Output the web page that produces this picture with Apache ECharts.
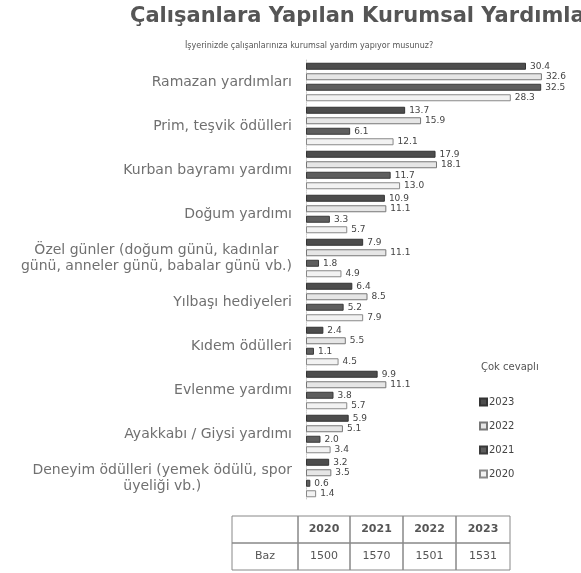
<!DOCTYPE html>
<html><head><meta charset="utf-8">
<script src="https://cdn.jsdelivr.net/npm/echarts@6/dist/echarts.min.js"></script>
<style>html,body{margin:0;padding:0;background:#fff}#c{width:581px;height:573px}</style>
</head><body><div id="c"></div>
<script>
const categories = [
  'Ramazan yardımları',
  'Prim, teşvik ödülleri',
  'Kurban bayramı yardımı',
  'Doğum yardımı',
  'Özel günler (doğum günü, kadınlar\ngünü, anneler günü, babalar günü vb.)',
  'Yılbaşı hediyeleri',
  'Kıdem ödülleri',
  'Evlenme yardımı',
  'Ayakkabı / Giysi yardımı',
  'Deneyim ödülleri (yemek ödülü, spor\nüyeliği vb.)'
];
const seriesNames = ['2023', '2022', '2021', '2020'];
const v2023 = [30.4, 13.7, 17.9, 10.9, 7.9, 6.4, 2.4, 9.9, 5.9, 3.2];
const v2022 = [32.6, 15.9, 18.1, 11.1, 11.1, 8.5, 5.5, 11.1, 5.1, 3.5];
const v2021 = [32.5, 6.1, 11.7, 3.3, 1.8, 5.2, 1.1, 3.8, 2.0, 0.6];
const v2020 = [28.3, 12.1, 13.0, 5.7, 4.9, 7.9, 4.5, 5.7, 3.4, 1.4];
const tableHeader = ['', '2020', '2021', '2022', '2023'];
const tableRow = ['Baz', '1500', '1570', '1501', '1531'];

const FONT = 'DejaVu Sans';
const styles = [
  {color: '#4d4d4d', borderColor: '#333', borderWidth: 1},
  {color: '#e6e6e6', borderColor: '#777', borderWidth: 1},
  {color: '#5e5e5e', borderColor: '#3a3a3a', borderWidth: 1},
  {color: '#f2f2f2', borderColor: '#888', borderWidth: 1}
];
const values = [v2023, v2022, v2021, v2020];

const series = seriesNames.map((n, i) => ({
  name: n, type: 'bar', data: values[i], barWidth: 7, barGap: '50%',
  itemStyle: styles[i],
  label: {show: true, position: 'right', distance: 4, color: '#444', fontFamily: FONT, fontSize: 9,
    formatter: p => p.value.toFixed(1)}
}));

// table graphic
const tX = [232, 298, 350, 403, 456, 510];
const tY = [516, 543, 570];
const graphic = [];
graphic.push({type: 'text', left: 481, top: 362, style: {text: 'Çok cevaplı', font: '10px ' + FONT, fill: '#555'}});
for (let r = 0; r < 2; r++) {
  const row = r === 0 ? tableHeader : tableRow;
  for (let c = 0; c < 5; c++) {
    graphic.push({type: 'rect', shape: {x: tX[c], y: tY[r], width: tX[c+1]-tX[c], height: tY[r+1]-tY[r]},
      style: {fill: 'none', stroke: '#888', lineWidth: 1}});
    if (row[c]) graphic.push({type: 'text', x: (tX[c]+tX[c+1])/2, y: (tY[r]+tY[r+1])/2,
      style: {text: row[c], font: (r === 0 ? 'bold ' : '') + '11px ' + FONT, fill: '#555', align: 'center', verticalAlign: 'middle'}});
  }
}

const chart = echarts.init(document.getElementById('c'));
chart.setOption({
  backgroundColor: '#fff',
  animation: false,
  title: [
    {text: 'Çalışanlara Yapılan Kurumsal Yardımlar', left: 125, top: 1,
     textStyle: {fontFamily: FONT, fontWeight: 'bold', fontSize: 21, color: '#555'}},
    {text: 'İşyerinizde çalışanlarınıza kurumsal yardım yapıyor musunuz?', left: 180, top: 37,
     textStyle: {fontFamily: FONT, fontWeight: 'normal', fontSize: 8, color: '#555'}}
  ],
  legend: {
    orient: 'vertical', left: 474, top: 392, itemGap: 14, itemWidth: 7, itemHeight: 7,
    icon: 'rect', data: seriesNames,
    textStyle: {fontFamily: FONT, fontSize: 10, color: '#444', padding: [0, 0, 0, -3]}
  },
  grid: {left: 306, top: 60, width: 275, height: 440, containLabel: false},
  xAxis: {type: 'value', min: 0, max: 38, show: false},
  yAxis: {
    type: 'category', data: categories, inverse: true,
    axisLine: {show: true, lineStyle: {color: '#ccc', type: 'dotted'}},
    axisTick: {show: false},
    axisLabel: {margin: 14, fontFamily: FONT, fontSize: 14, color: '#707070', lineHeight: 16,
      formatter: v => '{c|' + v.split('\n').join('}\n{c|') + '}',
      rich: {c: {align: 'center', fontFamily: FONT, fontSize: 14, color: '#707070', lineHeight: 16}}}
  },
  series: series,
  graphic: graphic
});
</script></body></html>
